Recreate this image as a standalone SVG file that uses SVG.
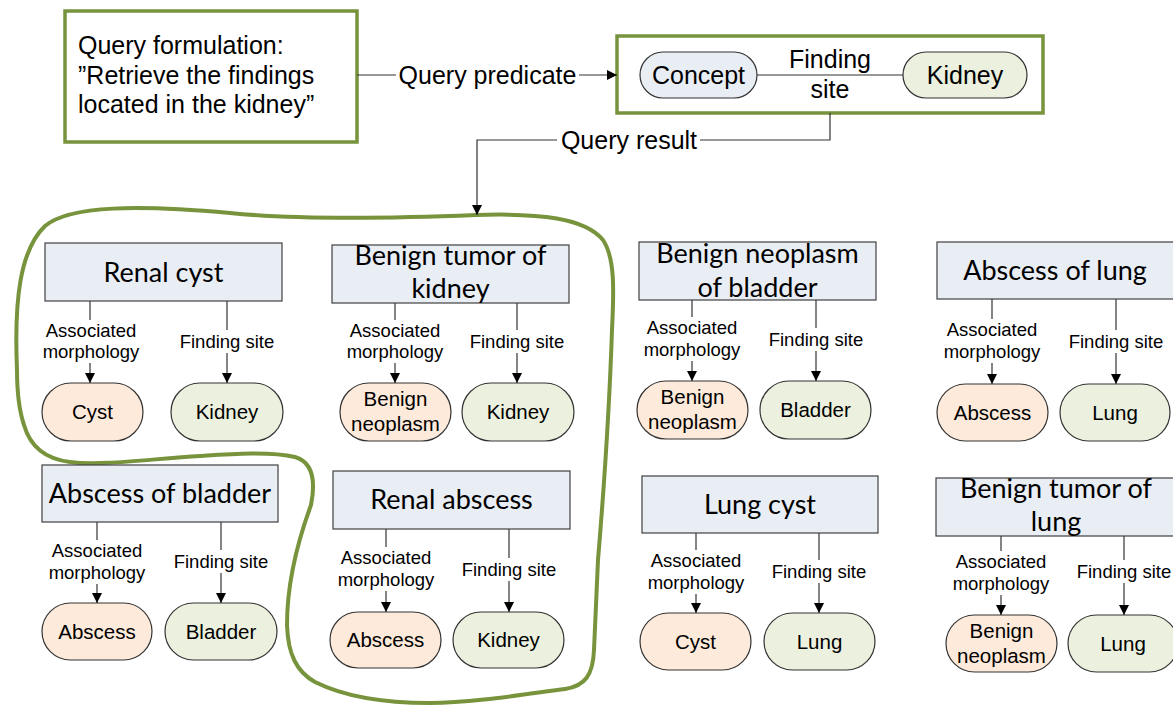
<svg xmlns="http://www.w3.org/2000/svg" width="1173" height="705" viewBox="0 0 1173 705">
<defs>
<marker id="arr" viewBox="0 0 10 10" refX="10" refY="5" markerWidth="10" markerHeight="10" markerUnits="userSpaceOnUse" orient="auto">
<path d="M0,0 L10,5 L0,10 z" fill="#000"/>
</marker>
<style>
.gbox{fill:#fff;stroke:#77933C;stroke-width:3.5}
.box{fill:#E9EDF4;stroke:#404040;stroke-width:1.2}
.pill{stroke:#333;stroke-width:1.2}
.o{fill:#FDEADA}
.g{fill:#EBF1DE}
.bl{fill:#E9EDF4}
.title{font-family:Lato,"Liberation Sans",sans-serif;font-size:27px;fill:#000;text-anchor:middle}
.ptxt{font-family:"Liberation Sans",Arial,sans-serif;font-size:20.5px;fill:#000;text-anchor:middle}
.lbl{font-family:"Liberation Sans",Arial,sans-serif;font-size:18.5px;fill:#000;text-anchor:middle}
.big{font-family:"Liberation Sans",Arial,sans-serif;font-size:25px;fill:#000}
.conn{fill:none;stroke:#333;stroke-width:1.2}
.arr{marker-end:url(#arr)}
.blob{fill:none;stroke:#77933C;stroke-width:4}
</style>
</defs>
<rect width="1173" height="705" fill="#fff"/>

<path class="blob" d="M17,370 C14,300 20,250 45,226 C70,205 140,205 230,213 C300,220 400,218 476,215 C540,213 585,218 603,240 C615,258 614,290 612,330 C609,420 603,500 598,560 L594,650 C593,675 585,686 565,689 C520,695 470,703 430,703 C370,703 335,692 315,682 C297,672 288,655 287,625 C287,580 300,535 311,505 C316,480 312,462 295,457 C270,451 230,454 200,456 C150,459 100,466 70,462 C45,459 30,446 24,425 C19,410 17,390 17,370 Z"/>

<g id="query">
<rect class="gbox" x="65" y="11" width="292" height="131"/>
<text class="big" x="78" y="54">Query formulation:</text>
<text class="big" x="78" y="84">”Retrieve the findings</text>
<text class="big" x="78" y="113">located in the kidney”</text>
</g>

<g id="predicate">
<rect class="gbox" x="617" y="36" width="426" height="77"/>
<rect class="pill bl" x="640" y="52" width="117" height="46" rx="23"/>
<text class="big" x="698.5" y="84" text-anchor="middle">Concept</text>
<rect class="pill g" x="903" y="52" width="124" height="46" rx="23"/>
<text class="big" x="965" y="84" text-anchor="middle">Kidney</text>
<line class="conn" x1="757" y1="75" x2="903" y2="75"/>
<text class="big" x="830" y="68" text-anchor="middle">Finding</text>
<text class="big" x="830" y="98" text-anchor="middle">site</text>
</g>

<g id="connectors">
<line class="conn" x1="357" y1="75" x2="396" y2="75"/>
<text class="big" x="487.5" y="83.5" text-anchor="middle">Query predicate</text>
<line class="conn arr" x1="579" y1="75" x2="617" y2="75"/>
<path class="conn" d="M830,113 V140 H700"/>
<text class="big" x="629" y="148.5" text-anchor="middle">Query result</text>
<path class="conn arr" d="M557,140 H477 V215"/>

<!-- N1 -->
<path class="conn" d="M90,301 V320"/><path class="conn arr" d="M90,363 V383"/>
<text class="lbl" x="91" y="337">Associated</text><text class="lbl" x="91" y="358">morphology</text>
<path class="conn" d="M227,301 V330"/><path class="conn arr" d="M227,353 V383"/>
<text class="lbl" x="227" y="348">Finding site</text>
<!-- N2 -->
<path class="conn" d="M395,303 V320"/><path class="conn arr" d="M395,363 V383"/>
<text class="lbl" x="395" y="337">Associated</text><text class="lbl" x="395" y="358">morphology</text>
<path class="conn" d="M517,303 V330"/><path class="conn arr" d="M517,353 V383"/>
<text class="lbl" x="517" y="348">Finding site</text>
<!-- N3 -->
<path class="conn" d="M692,300 V317"/><path class="conn arr" d="M692,361 V381"/>
<text class="lbl" x="692" y="334">Associated</text><text class="lbl" x="692" y="356">morphology</text>
<path class="conn" d="M816,300 V328"/><path class="conn arr" d="M816,351 V381"/>
<text class="lbl" x="816" y="346">Finding site</text>
<!-- N4 -->
<path class="conn" d="M992,299 V319"/><path class="conn arr" d="M992,363 V384"/>
<text class="lbl" x="992" y="336">Associated</text><text class="lbl" x="992" y="358">morphology</text>
<path class="conn" d="M1116,299 V330"/><path class="conn arr" d="M1116,353 V384"/>
<text class="lbl" x="1116" y="348">Finding site</text>
<!-- N5 -->
<path class="conn" d="M97,522 V540"/><path class="conn arr" d="M97,584 V603"/>
<text class="lbl" x="97" y="557">Associated</text><text class="lbl" x="97" y="579">morphology</text>
<path class="conn" d="M221,522 V550"/><path class="conn arr" d="M221,573 V603"/>
<text class="lbl" x="221" y="568">Finding site</text>
<!-- N6 -->
<path class="conn" d="M386,529 V547"/><path class="conn arr" d="M386,591 V612"/>
<text class="lbl" x="386" y="564">Associated</text><text class="lbl" x="386" y="586">morphology</text>
<path class="conn" d="M509,529 V558"/><path class="conn arr" d="M509,581 V612"/>
<text class="lbl" x="509" y="576">Finding site</text>
<!-- N7 -->
<path class="conn" d="M696,533 V550"/><path class="conn arr" d="M696,594 V613"/>
<text class="lbl" x="696" y="567">Associated</text><text class="lbl" x="696" y="589">morphology</text>
<path class="conn" d="M819,533 V560"/><path class="conn arr" d="M819,583 V613"/>
<text class="lbl" x="819" y="578">Finding site</text>
<!-- N8 -->
<path class="conn" d="M1001,536 V551"/><path class="conn arr" d="M1001,595 V615"/>
<text class="lbl" x="1001" y="568">Associated</text><text class="lbl" x="1001" y="590">morphology</text>
<path class="conn" d="M1124,536 V560"/><path class="conn arr" d="M1124,583 V615"/>
<text class="lbl" x="1124" y="578">Finding site</text>
</g>

<g id="n1">
<rect class="box" x="45" y="243" width="237" height="58"/>
<text class="title" x="163.5" y="282">Renal cyst</text>
<rect class="pill o" x="42" y="383" width="101" height="58" rx="29"/>
<text class="ptxt" x="92.5" y="419">Cyst</text>
<rect class="pill g" x="171" y="383" width="112" height="58" rx="29"/>
<text class="ptxt" x="227" y="419">Kidney</text>
</g>

<g id="n2">
<rect class="box" x="332" y="245" width="237" height="58"/>
<text class="title" x="450.5" y="265">Benign tumor of</text>
<text class="title" x="450.5" y="298">kidney</text>
<rect class="pill o" x="340" y="383" width="111" height="58" rx="29"/>
<text class="ptxt" x="395.5" y="406">Benign</text>
<text class="ptxt" x="395.5" y="431">neoplasm</text>
<rect class="pill g" x="462" y="383" width="112" height="58" rx="29"/>
<text class="ptxt" x="518" y="419">Kidney</text>
</g>

<g id="n3">
<rect class="box" x="639" y="242" width="237" height="58"/>
<text class="title" x="757.5" y="263">Benign neoplasm</text>
<text class="title" x="757.5" y="297">of bladder</text>
<rect class="pill o" x="637" y="381" width="111" height="58" rx="29"/>
<text class="ptxt" x="692.5" y="404">Benign</text>
<text class="ptxt" x="692.5" y="429">neoplasm</text>
<rect class="pill g" x="760" y="381" width="111" height="58" rx="29"/>
<text class="ptxt" x="815.5" y="417">Bladder</text>
</g>

<g id="n4">
<rect class="box" x="937" y="242" width="238" height="57"/>
<text class="title" x="1055" y="280">Abscess of lung</text>
<rect class="pill o" x="937" y="384" width="111" height="57" rx="28.5"/>
<text class="ptxt" x="992.5" y="420">Abscess</text>
<rect class="pill g" x="1060" y="384" width="110" height="57" rx="28.5"/>
<text class="ptxt" x="1115" y="420">Lung</text>
</g>

<g id="n5">
<rect class="box" x="42" y="465" width="236" height="57"/>
<text class="title" x="160" y="503">Abscess of bladder</text>
<rect class="pill o" x="42" y="603" width="110" height="57" rx="28.5"/>
<text class="ptxt" x="97" y="639">Abscess</text>
<rect class="pill g" x="165" y="603" width="112" height="57" rx="28.5"/>
<text class="ptxt" x="221" y="639">Bladder</text>
</g>

<g id="n6">
<rect class="box" x="333" y="471" width="237" height="58"/>
<text class="title" x="451.5" y="509">Renal abscess</text>
<rect class="pill o" x="330" y="612" width="111" height="56" rx="28"/>
<text class="ptxt" x="385.5" y="647">Abscess</text>
<rect class="pill g" x="453" y="612" width="111" height="56" rx="28"/>
<text class="ptxt" x="508.5" y="647">Kidney</text>
</g>

<g id="n7">
<rect class="box" x="642" y="476" width="236" height="57"/>
<text class="title" x="760" y="514">Lung cyst</text>
<rect class="pill o" x="640" y="613" width="111" height="57" rx="28.5"/>
<text class="ptxt" x="695.5" y="649">Cyst</text>
<rect class="pill g" x="764" y="613" width="111" height="57" rx="28.5"/>
<text class="ptxt" x="819.5" y="649">Lung</text>
</g>

<g id="n8">
<rect class="box" x="936" y="478" width="239" height="58"/>
<text class="title" x="1056" y="498">Benign tumor of</text>
<text class="title" x="1056" y="531">lung</text>
<rect class="pill o" x="946" y="615" width="111" height="57" rx="28.5"/>
<text class="ptxt" x="1001.5" y="638">Benign</text>
<text class="ptxt" x="1001.5" y="663">neoplasm</text>
<rect class="pill g" x="1068" y="615" width="110" height="57" rx="28.5"/>
<text class="ptxt" x="1123" y="651">Lung</text>
</g>
</svg>
